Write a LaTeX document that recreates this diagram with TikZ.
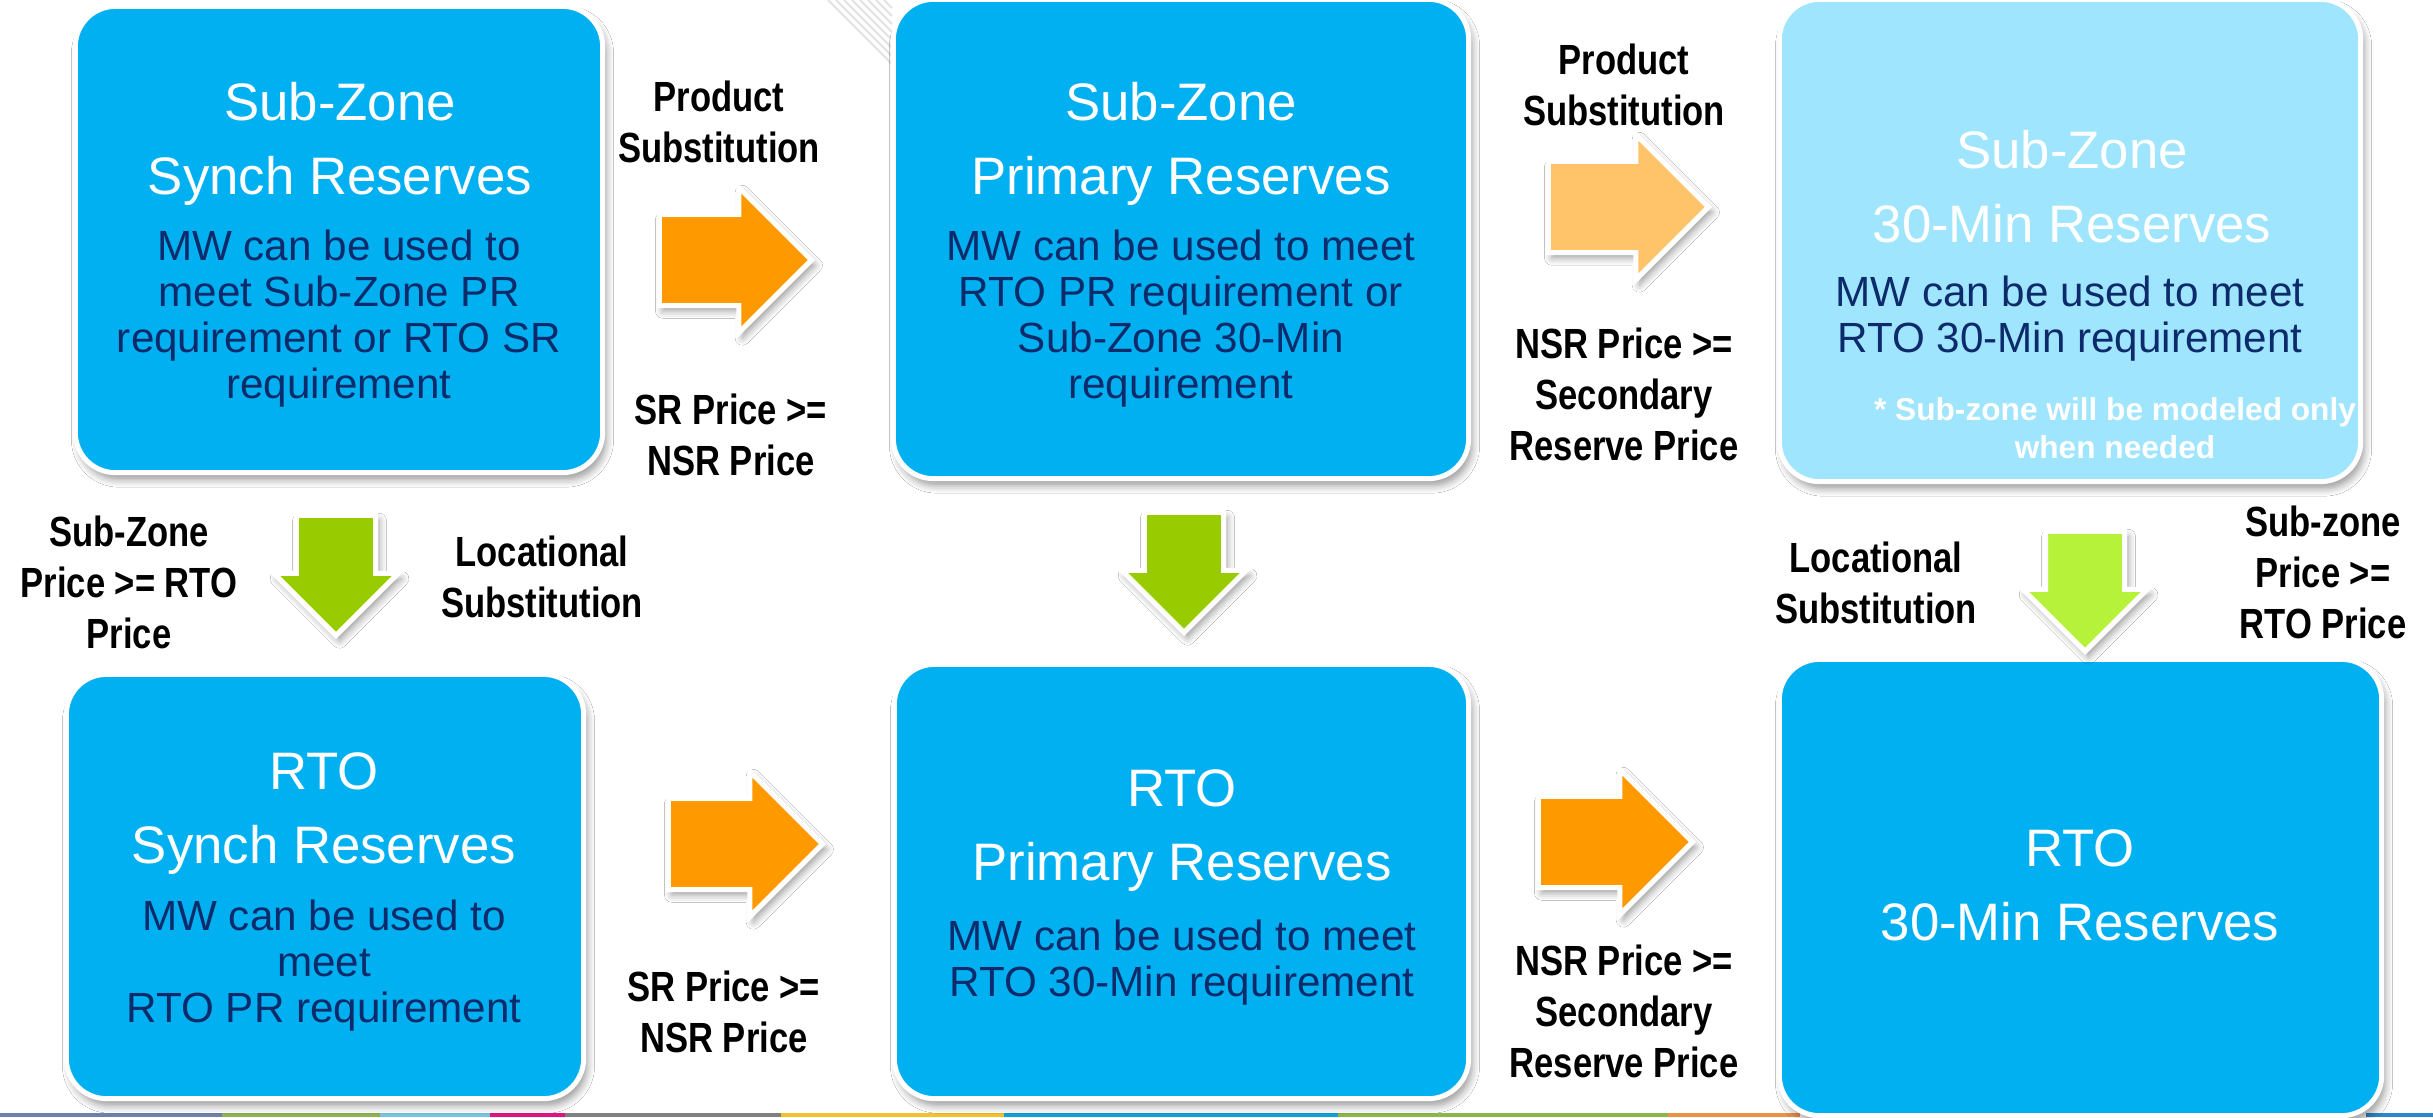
\documentclass[tikz,border=0pt]{standalone}
\usepackage{fontspec}
\setmainfont{Liberation Sans}
\newfontfamily\narrowfont[FakeStretch=0.82]{Liberation Sans}
\usetikzlibrary{shapes.arrows,shadows.blur}
\definecolor{boxblue}{HTML}{00B0F0}
\definecolor{paleblue}{HTML}{9FE5FD}
\definecolor{navytext}{HTML}{0D2B6B}
\definecolor{arrorange}{HTML}{FF9900}
\definecolor{paleorange}{HTML}{FFC36A}
\definecolor{arrgreen}{HTML}{99CC00}
\definecolor{palegreen}{HTML}{B7F23A}
\definecolor{stripslate}{HTML}{7080A8}
\definecolor{stripolive}{HTML}{8DB255}
\definecolor{stripsky}{HTML}{77C4E0}
\definecolor{stripmagenta}{HTML}{E0147E}
\definecolor{stripgray}{HTML}{808080}
\definecolor{stripyellow}{HTML}{F2C12E}
\definecolor{stripblue}{HTML}{129FD6}
\definecolor{stripgreen}{HTML}{8DB54C}
\definecolor{striporange}{HTML}{E8924A}
\definecolor{stripnavy}{HTML}{2F86C8}
\tikzset{
  resbox/.style={draw=white, line width=0.05cm, rounded corners=0.4cm, fill=boxblue,
    blur shadow={shadow xshift=1pt, shadow yshift=-2pt, shadow blur steps=6}},
  blk/.style={single arrow, anchor=tip, draw=white, line width=0.05cm,
    blur shadow={shadow xshift=1pt, shadow yshift=-1.5pt, shadow blur steps=5}},
  blkright/.style={blk, inner xsep=0, inner ysep=0.43cm,
    single arrow head extend=0.27cm, single arrow tip angle=90},
  blkdown/.style={blk, shape border rotate=270, inner xsep=0.37cm, inner ysep=0,
    single arrow head extend=0.225cm, single arrow tip angle=90, minimum height=1.2cm},
  ttl/.style={anchor=north, inner sep=0, align=center, text=white, font=\fontsize{15}{21}\selectfont},
  bdy/.style={anchor=north, inner sep=0, align=center, text=navytext, font=\fontsize{12}{13.1}\selectfont},
  note/.style={anchor=north, inner sep=0, align=center, text=white, font=\bfseries\fontsize{9}{10.8}\selectfont},
  lbl/.style={anchor=north, inner sep=0, align=center, font=\narrowfont\bfseries\fontsize{12}{14.5}\selectfont}
}
\begin{document}
\begin{tikzpicture}[x=0.01cm, y=-0.01cm]
\useasboundingbox (0,0) rectangle (2433,1117);
\fill[white] (0,0) rectangle (2433,1117);
% slide strip and hatch
\foreach \a/\b/\c in {0/222/stripslate, 222/380/stripolive, 380/490/stripsky, 490/565/stripmagenta,
  565/781/stripgray, 781/1004/stripyellow, 1004/1338/stripblue, 1338/1668/stripgreen,
  1668/1800/striporange, 2366/2433/stripnavy}
  \fill[\c] (\a,1113) rectangle (\b,1117);
\foreach \k in {0,...,7}
  \draw[gray!22, line width=0.6pt] (828+8*\k,0) -- (892,64-8*\k);
% boxes
\node[resbox, minimum width=5.27cm, minimum height=4.66cm] (boxA) at (339,239.5) {};
\node[resbox, minimum width=5.75cm, minimum height=4.79cm] (boxB) at (1181,239) {};
\node[resbox, fill=paleblue, minimum width=5.81cm, minimum height=4.82cm] (boxC) at (2070,240.5) {};
\node[resbox, minimum width=5.17cm, minimum height=4.24cm] (boxD) at (325,886.5) {};
\node[resbox, minimum width=5.74cm, minimum height=4.34cm] (boxE) at (1181.5,881.5) {};
\node[resbox, minimum width=6.02cm, minimum height=4.56cm] (boxF) at (2080.5,887.5) {};
% block arrows, placed by their tips
\node[blkright, fill=arrorange, minimum height=1.52cm] (arrAB) at (815,260) {};
\node[blkright, fill=paleorange, minimum height=1.6cm] (arrBC) at (1712,207) {};
\node[blkright, fill=arrorange, minimum height=1.54cm] (arrDE) at (826,844) {};
\node[blkright, fill=arrorange, minimum height=1.54cm] (arrEF) at (1696,842) {};
\node[blkdown, fill=arrgreen] (arrAD) at (336,639) {};
\node[blkdown, fill=arrgreen] (arrBE) at (1184,636) {};
\node[blkdown, fill=palegreen] (arrCF) at (2085,655) {};
% box texts
\node[ttl] (ttlA) at (340,82) {Sub-Zone\\Synch Reserves};
\node[bdy] (bdyA) at (339,229) {MW can be used to\\meet Sub-Zone PR\\requirement or RTO SR\\requirement};
\node[ttl] (ttlB) at (1181,82) {Sub-Zone\\Primary Reserves};
\node[bdy] (bdyB) at (1181,229) {MW can be used to meet\\RTO PR requirement or\\Sub-Zone 30-Min\\requirement};
\node[ttl] (ttlC) at (2072,130) {Sub-Zone\\30-Min Reserves};
\node[bdy] (bdyC) at (2070,275) {MW can be used to meet\\RTO 30-Min requirement};
\node[note] (noteC) at (2115,397) {* Sub-zone will be modeled only\\when needed};
\node[ttl] (ttlD) at (324,752) {RTO\\Synch Reserves};
\node[bdy] (bdyD) at (324,899) {MW can be used to\\meet\\RTO PR requirement};
\node[ttl] (ttlE) at (1182,769) {RTO\\Primary Reserves};
\node[bdy] (bdyE) at (1182,919) {MW can be used to meet\\RTO 30-Min requirement};
\node[ttl] (ttlF) at (2080,829) {RTO\\30-Min Reserves};
% substitution labels
\node[lbl] (prodAB) at (719,80) {Product\\Substitution};
\node[lbl] (priceAB) at (731,393) {SR Price >=\\NSR Price};
\node[lbl] (prodBC) at (1624,43) {Product\\Substitution};
\node[lbl] (priceBC) at (1624,327) {NSR Price >=\\Secondary\\Reserve Price};
\node[lbl] (priceAD) at (129,515) {Sub-Zone\\Price >= RTO\\Price};
\node[lbl] (locAD) at (542,535) {Locational\\Substitution};
\node[lbl] (priceDE) at (724,970) {SR Price >=\\NSR Price};
\node[lbl] (locCF) at (1876,541) {Locational\\Substitution};
\node[lbl] (priceCF) at (2323,505) {Sub-zone\\Price >=\\RTO Price};
\node[lbl] (priceEF) at (1624,944) {NSR Price >=\\Secondary\\Reserve Price};
\end{tikzpicture}
\end{document}
